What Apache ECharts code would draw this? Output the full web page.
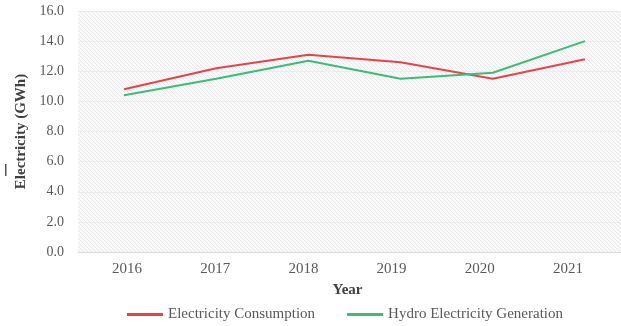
<!DOCTYPE html>
<html>
<head>
<meta charset="utf-8">
<script src="https://cdn.jsdelivr.net/npm/echarts@6/dist/echarts.min.js"></script>
<style>
  html, body { margin: 0; padding: 0; background: #ffffff; }
  #chart { width: 621px; height: 326px; }
</style>
</head>
<body>
<div id="chart"></div>
<script>
// Annual electricity figures (GWh)
const years = ['2016', '2017', '2018', '2019', '2020', '2021'];
const consumption = [10.8, 12.2, 13.1, 12.6, 11.5, 12.8];
const hydroGeneration = [10.4, 11.5, 12.7, 11.5, 11.9, 14.0];
const yTicks = { min: 0, max: 16, interval: 2 };

// Light diagonal hatch used as the plot background
function hatchPattern() {
  const size = 4;
  const c = document.createElement('canvas');
  c.width = size; c.height = size;
  const ctx = c.getContext('2d');
  ctx.fillStyle = '#f9f9f9';
  ctx.fillRect(0, 0, size, size);
  ctx.strokeStyle = '#e9e9e9';
  ctx.lineWidth = 1;
  ctx.beginPath();
  ctx.moveTo(-1, -1); ctx.lineTo(size + 1, size + 1);
  ctx.moveTo(-1, size - 1); ctx.lineTo(1, size + 1);
  ctx.moveTo(size - 1, -1); ctx.lineTo(size + 1, 1);
  ctx.stroke();
  return c;
}

const FONT = 'Liberation Serif';
const TEXT = '#595959';

const chart = echarts.init(document.getElementById('chart'), null, { renderer: 'canvas' });

chart.setOption({
  backgroundColor: '#ffffff',
  animation: false,
  grid: [
    {
      // hatched plot frame with the value axis
      left: 78, right: 0, top: 11, bottom: 74,
      show: true,
      backgroundColor: { image: hatchPattern(), repeat: 'repeat' },
      borderWidth: 0
    },
    {
      // carries the year labels under the plot
      left: 83, width: 529, top: 11, bottom: 74,
      show: false
    },
    {
      // the two series, first and last year at the edges
      left: 124, width: 461, top: 11, bottom: 74,
      show: false
    }
  ],
  legend: {
    left: 122,
    bottom: -1,
    itemWidth: 36,
    itemHeight: 3,
    itemGap: 32,
    icon: 'rect',
    textStyle: { fontFamily: FONT, fontSize: 15, color: TEXT },
    data: ['Electricity Consumption', 'Hydro Electricity Generation']
  },
  xAxis: [
    {
      type: 'category',
      gridIndex: 0,
      data: years,
      axisLine: { show: true, lineStyle: { color: '#dcdcdc', width: 1 } },
      axisTick: { show: false },
      axisLabel: { show: false },
      splitLine: { show: false }
    },
    {
      type: 'category',
      gridIndex: 1,
      data: years,
      boundaryGap: true,
      axisLine: { show: false },
      axisTick: { show: false },
      axisLabel: { fontFamily: FONT, fontSize: 15, color: TEXT, margin: 10 },
      splitLine: { show: false },
      name: 'Year',
      nameLocation: 'middle',
      nameGap: 31,
      nameTextStyle: { fontFamily: FONT, fontSize: 15, fontWeight: 'bold', color: '#404040' }
    },
    {
      type: 'category',
      gridIndex: 2,
      data: years,
      boundaryGap: false,
      show: false
    }
  ],
  yAxis: [
    {
      type: 'value',
      gridIndex: 0,
      min: yTicks.min,
      max: yTicks.max,
      interval: yTicks.interval,
      axisLine: { show: false },
      axisTick: { show: false },
      axisLabel: {
        fontFamily: FONT, fontSize: 14, color: TEXT, margin: 14,
        formatter: v => v.toFixed(1)
      },
      splitLine: { show: true, lineStyle: { color: '#ececec', width: 1 } },
      name: 'Electricity (GWh)',
      nameLocation: 'middle',
      nameGap: 47,
      nameTextStyle: { fontFamily: FONT, fontSize: 15, fontWeight: 'bold', color: '#404040' }
    },
    {
      type: 'value',
      gridIndex: 1,
      min: yTicks.min,
      max: yTicks.max,
      show: false
    },
    {
      type: 'value',
      gridIndex: 2,
      min: yTicks.min,
      max: yTicks.max,
      show: false
    }
  ],
  graphic: [
    {
      type: 'rect',
      left: 5, top: 164,
      shape: { width: 1.5, height: 12 },
      style: { fill: '#555555' }
    }
  ],
  series: [
    {
      name: 'Electricity Consumption',
      type: 'line',
      xAxisIndex: 2, yAxisIndex: 2,
      data: consumption,
      showSymbol: false,
      symbol: 'none',
      lineStyle: { color: '#e8424f', width: 2 },
      itemStyle: { color: '#e8424f' }
    },
    {
      name: 'Hydro Electricity Generation',
      type: 'line',
      xAxisIndex: 2, yAxisIndex: 2,
      data: hydroGeneration,
      showSymbol: false,
      symbol: 'none',
      lineStyle: { color: '#3dbb7c', width: 2 },
      itemStyle: { color: '#3dbb7c' }
    }
  ]
});
</script>
</body>
</html>
